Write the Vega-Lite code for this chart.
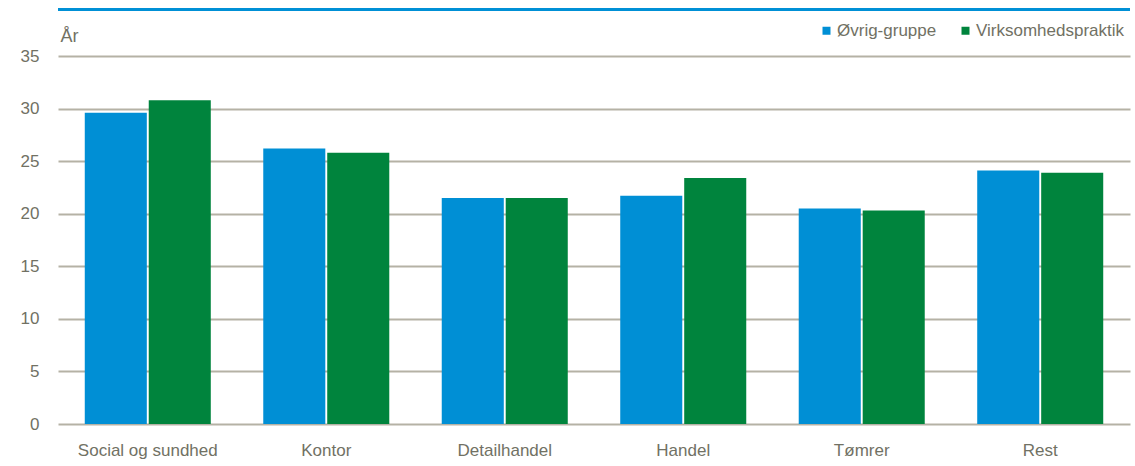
{
  "$schema": "https://vega.github.io/schema/vega-lite/v6.json",
  "width": 1072,
  "height": 368,
  "autosize": {"type": "none"},
  "padding": {"left": 58, "top": 56, "right": 5, "bottom": 42},
  "background": "white",
  "config": {"view": {"stroke": null}, "font": "Liberation Sans"},
  "data": {
    "values": [
      {"kategori": "Social og sundhed", "gruppe": "Øvrig-gruppe", "aar": 29.6},
      {"kategori": "Social og sundhed", "gruppe": "Virksomhedspraktik", "aar": 30.8},
      {"kategori": "Kontor", "gruppe": "Øvrig-gruppe", "aar": 26.2},
      {"kategori": "Kontor", "gruppe": "Virksomhedspraktik", "aar": 25.8},
      {"kategori": "Detailhandel", "gruppe": "Øvrig-gruppe", "aar": 21.5},
      {"kategori": "Detailhandel", "gruppe": "Virksomhedspraktik", "aar": 21.5},
      {"kategori": "Handel", "gruppe": "Øvrig-gruppe", "aar": 21.7},
      {"kategori": "Handel", "gruppe": "Virksomhedspraktik", "aar": 23.4},
      {"kategori": "Tømrer", "gruppe": "Øvrig-gruppe", "aar": 20.5},
      {"kategori": "Tømrer", "gruppe": "Virksomhedspraktik", "aar": 20.3},
      {"kategori": "Rest", "gruppe": "Øvrig-gruppe", "aar": 24.1},
      {"kategori": "Rest", "gruppe": "Virksomhedspraktik", "aar": 23.9}
    ]
  },
  "layer": [
    {
      "mark": {"type": "bar"},
      "encoding": {
        "x": {
          "field": "kategori", "type": "nominal", "sort": null,
          "scale": {"paddingInner": 0.294, "paddingOuter": 0.15},
          "axis": {"title": null, "domain": false, "ticks": false, "labelAngle": 0, "labelPadding": 18, "labelFontSize": 17, "labelColor": "#717164"}
        },
        "xOffset": {"field": "gruppe", "sort": null, "scale": {"paddingInner": 0.03}},
        "y": {
          "field": "aar", "type": "quantitative",
          "scale": {"domain": [0, 35]},
          "axis": {
            "title": "År", "titleAngle": 0, "titleAlign": "left", "titleBaseline": "alphabetic",
            "titleX": 2, "titleY": -15, "titleFontSize": 18, "titleFontWeight": "normal", "titleColor": "#717164",
            "values": [0, 5, 10, 15, 20, 25, 30, 35],
            "grid": true, "gridColor": "#b5b2a5", "gridWidth": 2,
            "domain": false, "ticks": false, "labelPadding": 19, "labelFontSize": 17, "labelColor": "#717164"
          }
        },
        "color": {
          "field": "gruppe", "type": "nominal", "sort": null,
          "scale": {"domain": ["Øvrig-gruppe", "Virksomhedspraktik"], "range": ["#008fd5", "#00843d"]},
          "legend": {
            "title": null, "orient": "none", "legendX": 760, "legendY": -34, "direction": "horizontal",
            "symbolType": "square", "symbolSize": 64, "labelFontSize": 17, "labelColor": "#717164",
            "columnPadding": 20, "labelOffset": 2
          }
        }
      }
    },
    {
      "mark": {"type": "rule", "color": "#0090d6", "strokeWidth": 2.5},
      "encoding": {"y": {"datum": 39.4}}
    }
  ]
}
